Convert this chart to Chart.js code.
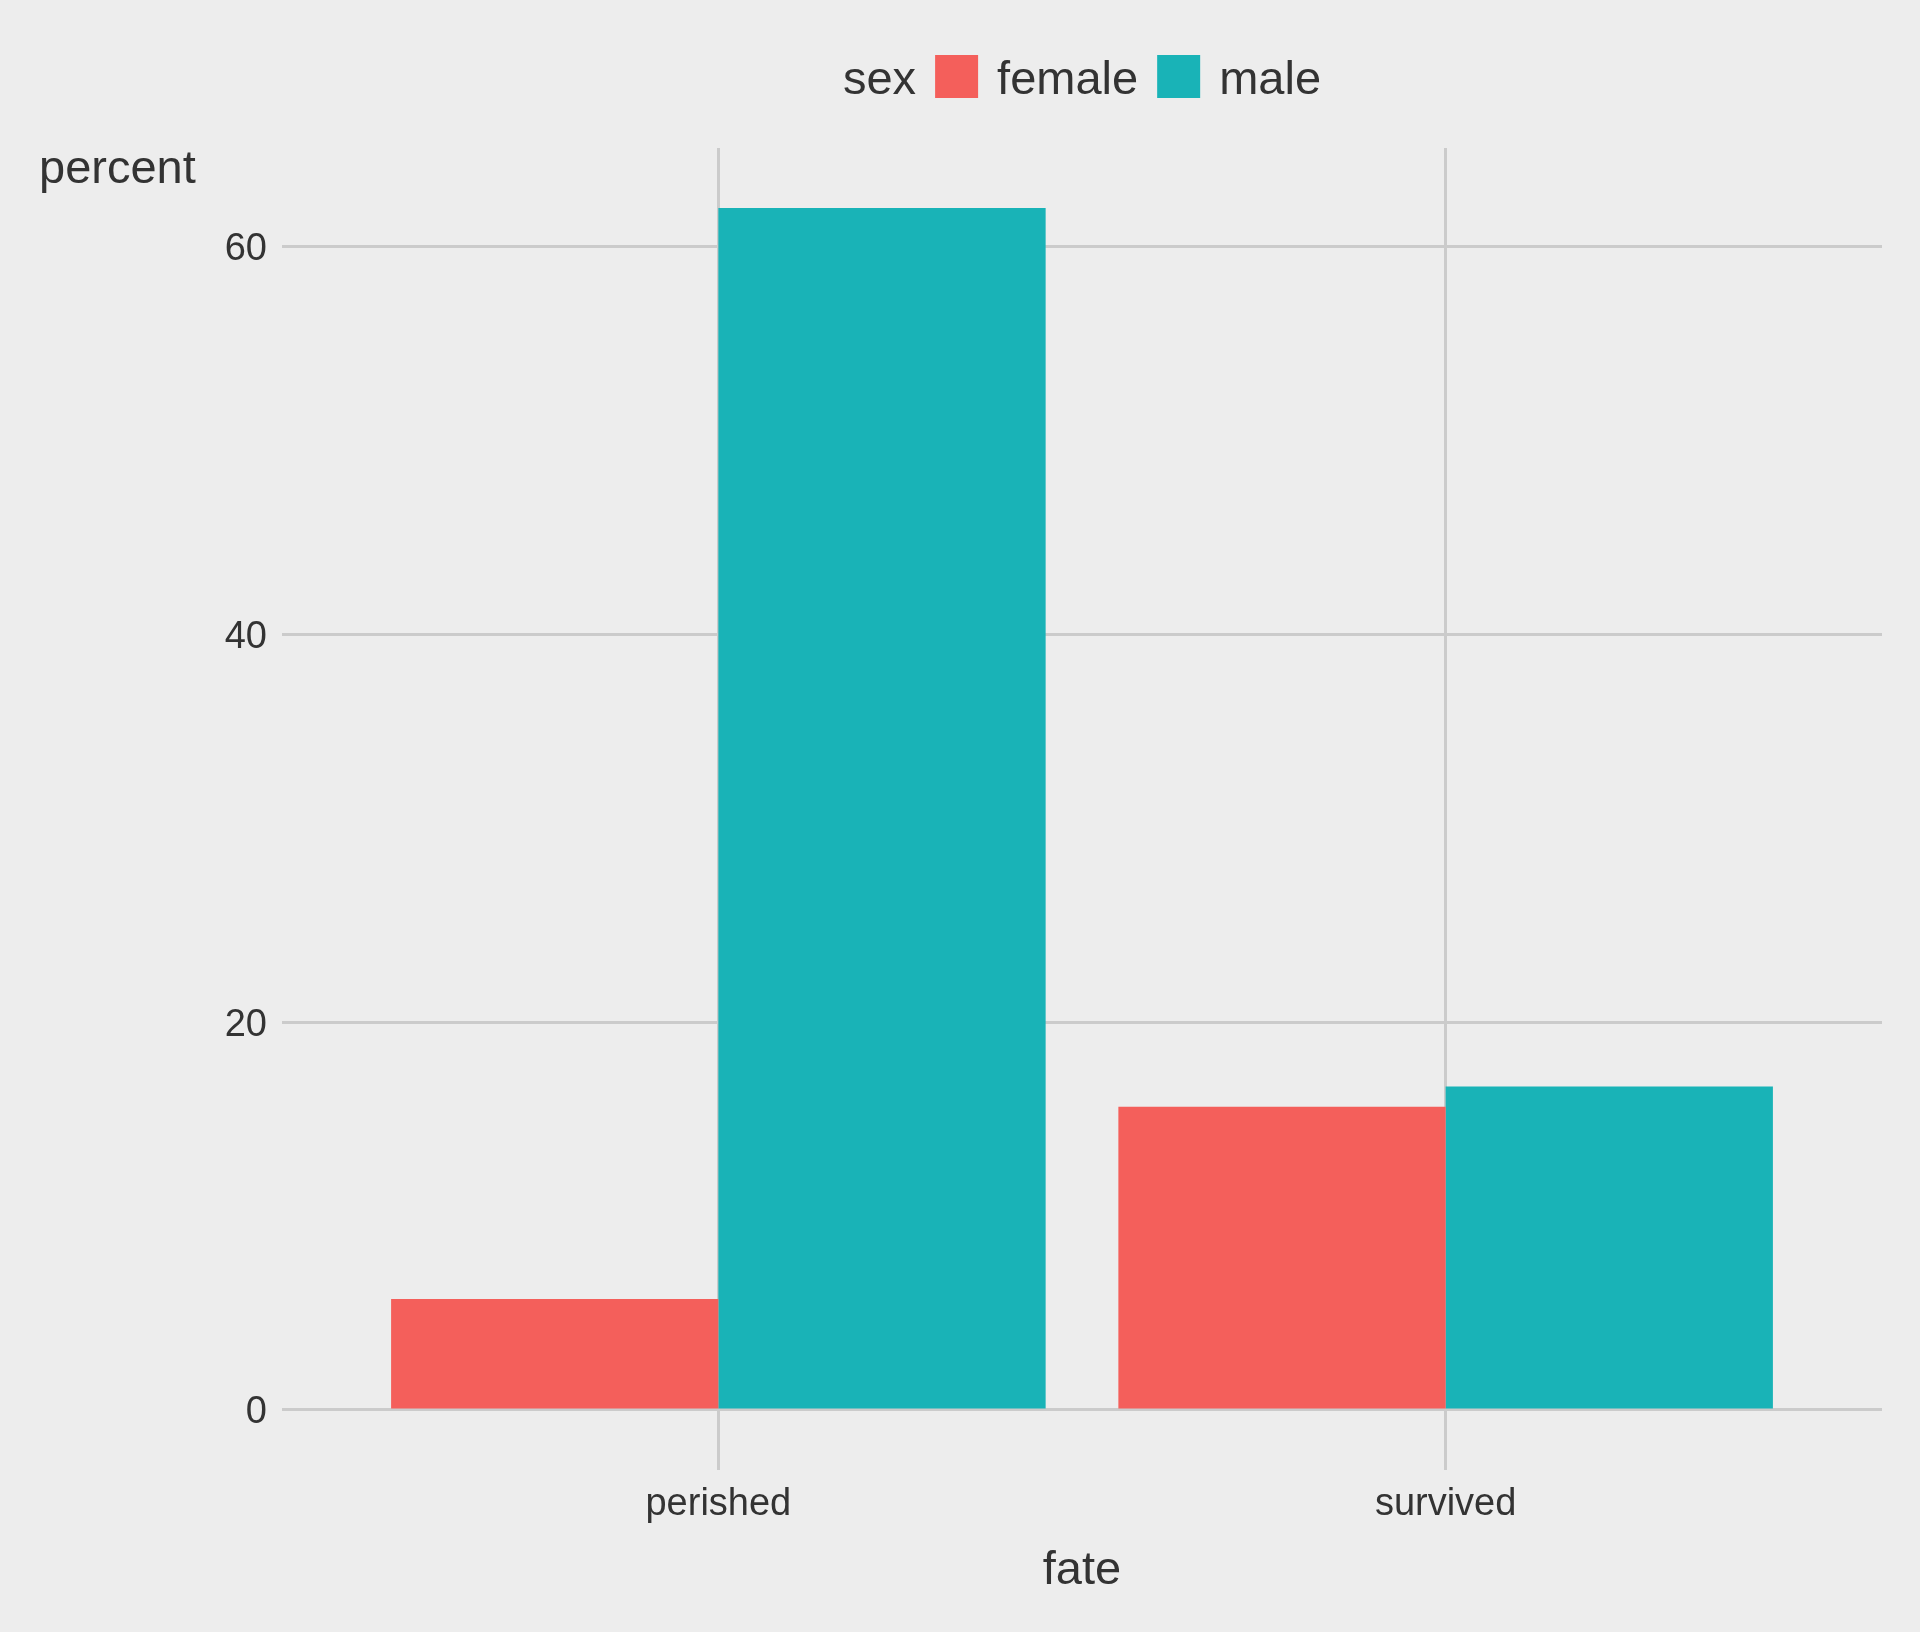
<!DOCTYPE html>
<html>
<head>
<meta charset="utf-8">
<script src="https://cdn.jsdelivr.net/npm/chart.js@4.4.0/dist/chart.umd.min.js"></script>
<style>
  html, body { margin: 0; padding: 0; background: #ededed; }
  canvas { display: block; }
</style>
</head>
<body>
<canvas id="chart" width="1920" height="1632" style="width:1920px;height:1632px"></canvas>
<script>
const fates = ['perished', 'survived'];
const sexes = ['female', 'male'];
const femalePct = [5.72, 15.63];
const malePct = [61.97, 16.67];
const yTicks = [0, 20, 40, 60];
const xTicks = [1, 2];

const colors = ['#f45f5b', '#19b3b7'];
const textColor = '#333333';
const gridColor = '#cbcbcb';
const fontFamily = '"Liberation Sans", Arial, sans-serif';

// legend "sex [] female [] male" + y title drawn on top
const topLegend = {
    id: 'topLegend',
    afterDraw(chart) {
        const ctx = chart.ctx;
        const area = chart.chartArea;
        ctx.save();
        ctx.font = '47px ' + fontFamily;
        ctx.fillStyle = textColor;
        ctx.textBaseline = 'alphabetic';
        ctx.textAlign = 'left';
        ctx.fillText('percent', 39, 183);

        const box = 43, gap = 19;
        let w = ctx.measureText('sex').width;
        sexes.forEach(s => { w += gap + box + gap + ctx.measureText(s).width; });
        let x = (area.left + area.right) / 2 - w / 2;
        ctx.fillText('sex', x, 94);
        x += ctx.measureText('sex').width;
        sexes.forEach((s, i) => {
            x += gap;
            ctx.fillStyle = colors[i];
            ctx.fillRect(x, 55, box, box);
            x += box + gap;
            ctx.fillStyle = textColor;
            ctx.fillText(s, x, 94);
            x += ctx.measureText(s).width;
        });
        ctx.restore();
    }
};

const datasets = [femalePct, malePct].map((vals, i) => ({
    label: sexes[i],
    data: vals.map((v, j) => ({ x: xTicks[j], y: v })),
    backgroundColor: colors[i],
    borderWidth: 0,
    categoryPercentage: 0.9,
    barPercentage: 1.0
}));

new Chart(document.getElementById('chart'), {
    type: 'bar',
    data: { datasets: datasets },
    plugins: [topLegend],
    options: {
        responsive: false,
        animation: false,
        layout: { padding: { left: 0, right: 38, top: 148, bottom: 0 } },
        plugins: {
            legend: { display: false },
            tooltip: { enabled: false }
        },
        scales: {
            x: {
                type: 'linear',
                min: 0.4,
                max: 2.6,
                offset: false,
                afterBuildTicks: s => { s.ticks = xTicks.map(v => ({ value: v })); },
                afterFit: s => { s.height = 162; },
                ticks: {
                    callback: v => fates[v - 1],
                    font: { family: fontFamily, size: 38 },
                    color: textColor,
                    padding: 12
                },
                grid: { color: gridColor, lineWidth: 3, drawTicks: false, offset: false },
                border: { display: false },
                title: {
                    display: true,
                    text: 'fate',
                    font: { family: fontFamily, size: 47 },
                    color: textColor,
                    padding: { top: 0, bottom: 33 }
                }
            },
            y: {
                min: -3.1,
                max: 65.07,
                afterBuildTicks: s => { s.ticks = yTicks.map(v => ({ value: v })); },
                afterFit: s => { s.width = 282; },
                ticks: {
                    font: { family: fontFamily, size: 38 },
                    color: textColor,
                    padding: 15,
                    labelOffset: 3
                },
                grid: { color: gridColor, lineWidth: 3, drawTicks: false },
                border: { display: false }
            }
        }
    }
});
</script>
</body>
</html>
